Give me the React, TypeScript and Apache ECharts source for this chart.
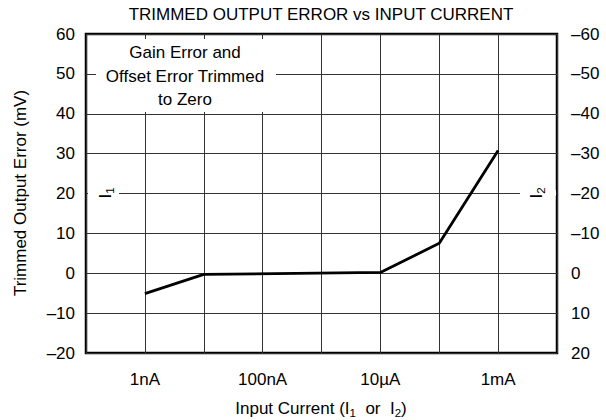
import React, { useEffect, useRef } from "react";
import * as echarts from "echarts";

const currents = [1e-9, 1e-8, 1e-5, 1e-4, 1e-3];
const errors = [-5.1, -0.3, 0.2, 7.5, 30.8];
const tickExps = [-9, -7, -5, -3];
const tickLabels = ["1nA", "100nA", "10µA", "1mA"];
const titleText = "TRIMMED OUTPUT ERROR vs INPUT CURRENT";
const noteLines = ["Gain Error and", "Offset Error Trimmed", "to Zero"];

const FONT = "'Liberation Sans', Arial, sans-serif";
const FS = 17;

const fmtNeg = (v: number) => (v < 0 ? "\u2013" + Math.abs(v) : String(v));

export default function App() {
  const ref = useRef<HTMLDivElement>(null);
  useEffect(() => {
    const chart = echarts.init(ref.current!, null, { renderer: "svg" });
    const gl = 86, gr = 557, gt = 34, gb = 353;
    const sub = { fontSize: 11.5, fontFamily: FONT, fill: "#000", padding: [9, 0, 0, 0] };
    chart.setOption({
      animation: false,
      textStyle: { fontFamily: FONT },
      grid: {
        left: gl,
        right: 606 - gr,
        top: gt,
        bottom: 420 - gb,
        show: true,
        borderColor: "#000",
        borderWidth: 2.5,
        backgroundColor: "#fff",
      },
      xAxis: {
        type: "log",
        logBase: 10,
        min: 1e-10,
        max: 1e-2,
        axisLine: { show: false },
        axisTick: { show: false },
        splitLine: { show: true, lineStyle: { color: "#333", width: 1 } },
        axisLabel: {
          color: "#000",
          fontSize: FS,
          fontFamily: FONT,
          margin: 18,
          formatter: (v: number) => {
            const e = Math.round(Math.log10(v));
            const i = tickExps.indexOf(e);
            return i >= 0 ? tickLabels[i] : "";
          },
        },
      },
      yAxis: [
        {
          type: "value",
          min: -20,
          max: 60,
          interval: 10,
          axisLine: { show: false },
          axisTick: { show: false },
          splitLine: { show: true, lineStyle: { color: "#333", width: 1 } },
          axisLabel: { color: "#000", fontSize: FS, fontFamily: FONT, margin: 11, formatter: fmtNeg },
        },
        {
          type: "value",
          min: -60,
          max: 20,
          interval: 10,
          inverse: true,
          position: "right",
          axisLine: { show: false },
          axisTick: { show: false },
          splitLine: { show: false },
          axisLabel: { color: "#000", fontSize: FS, fontFamily: FONT, margin: 14, formatter: fmtNeg },
        },
      ],
      series: [
        {
          type: "line",
          data: currents.map((c, i) => [c, errors[i]]),
          symbol: "none",
          lineStyle: { color: "#000", width: 2.8 },
          z: 10,
        },
      ],
      graphic: [
        { type: "rect", z: 50, shape: { x: 96, y: 39, width: 180, height: 73 }, style: { fill: "#fff" } },
        { type: "rect", z: 50, shape: { x: 88, y: 190, width: 31, height: 6 }, style: { fill: "#fff" } },
        { type: "rect", z: 50, shape: { x: 520, y: 190, width: 36, height: 6 }, style: { fill: "#fff" } },
        {
          type: "text",
          z: 60,
          x: 185,
          y: 76,
          style: {
            text: noteLines.join("\n"),
            font: `${FS}px ${FONT}`,
            fill: "#000",
            align: "center",
            verticalAlign: "middle",
            lineHeight: 23.5,
          },
        },
        {
          type: "text",
          z: 60,
          x: 321,
          y: 14,
          style: { text: titleText, font: `${FS}px ${FONT}`, fill: "#000", align: "center", verticalAlign: "middle" },
        },
        {
          type: "text",
          z: 60,
          x: 20,
          y: 193,
          rotation: Math.PI / 2,
          style: {
            text: "Trimmed Output Error (mV)",
            font: `${FS}px ${FONT}`,
            fill: "#000",
            align: "center",
            verticalAlign: "middle",
          },
        },
        {
          type: "text",
          z: 60,
          x: 321,
          y: 408,
          style: {
            text: "Input Current (I{s|1}  or  I{s|2})",
            font: `${FS}px ${FONT}`,
            fill: "#000",
            align: "center",
            verticalAlign: "middle",
            rich: { s: sub },
          },
        },
        {
          type: "text",
          z: 60,
          x: 105,
          y: 193,
          rotation: Math.PI / 2,
          style: {
            text: "I{s|1}",
            font: `${FS}px ${FONT}`,
            fill: "#000",
            align: "center",
            verticalAlign: "middle",
            rich: { s: sub },
          },
        },
        {
          type: "text",
          z: 60,
          x: 536,
          y: 193,
          rotation: Math.PI / 2,
          style: {
            text: "I{s|2}",
            font: `${FS}px ${FONT}`,
            fill: "#000",
            align: "center",
            verticalAlign: "middle",
            rich: { s: sub },
          },
        },
      ],
    });
    return () => chart.dispose();
  }, []);
  return <div ref={ref} style={{ width: 606, height: 420, position: "absolute", left: 0, top: 0 }} />;
}
